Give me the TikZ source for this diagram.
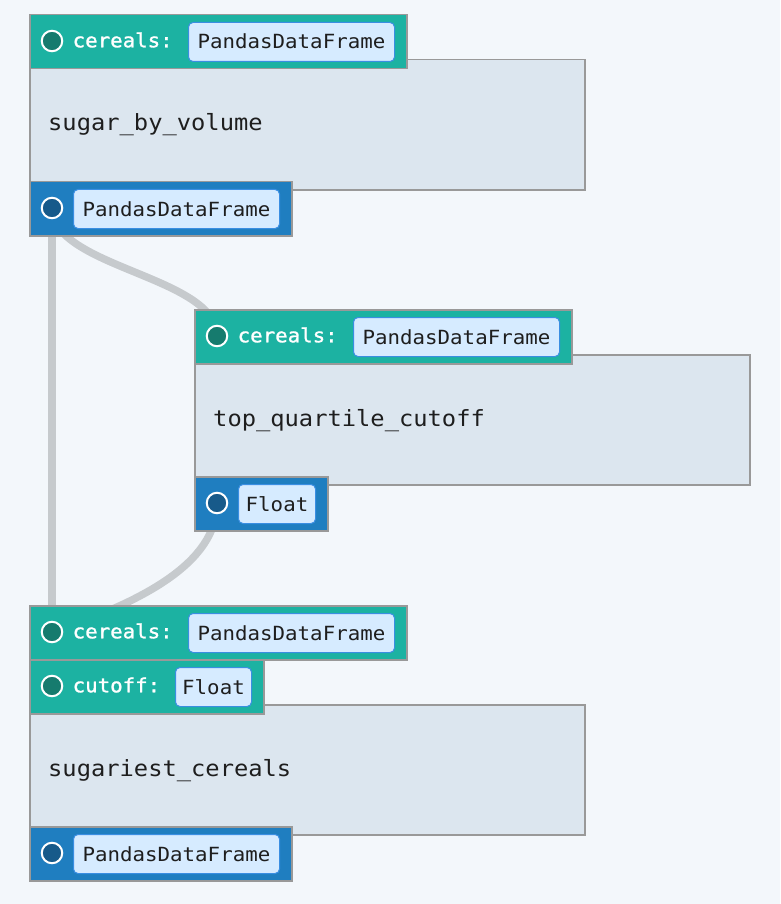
\documentclass[tikz,border=0pt]{standalone}
\usepackage{fontspec}
\newfontfamily\monof[FakeStretch=1.065]{DejaVu Sans Mono}
\newfontfamily\monosb[FakeStretch=1.065,FakeBold=1.3]{DejaVu Sans Mono}
\definecolor{pagebg}{HTML}{F3F7FB}
\definecolor{tealbar}{HTML}{1CB2A2}
\definecolor{bluebar}{HTML}{1F7EC0}
\definecolor{bodyc}{HTML}{DCE6EF}
\definecolor{bordergray}{HTML}{999999}
\definecolor{tboxf}{HTML}{D6EBFF}
\definecolor{tboxb}{HTML}{3A8EE2}
\definecolor{tealdark}{HTML}{167B6E}
\definecolor{bluedark}{HTML}{175A8A}
\definecolor{edgec}{HTML}{C6CACD}
\definecolor{textc}{HTML}{1E1E1E}
\pgfdeclarelayer{back}
\pgfdeclarelayer{edges}
\pgfsetlayers{back,edges,main}
\begin{document}
\begin{tikzpicture}[x=1pt,y=-1pt,
  bar/.style={draw=bordergray, line width=1.5pt, anchor=north west, inner sep=0pt, rectangle},
  hdr/.style={bar, fill=tealbar, minimum height=54pt},
  outb/.style={bar, fill=bluebar, minimum height=54pt},
  bodybox/.style={bar, fill=bodyc, minimum width=555pt, minimum height=130pt},
  tbox/.style={draw=tboxb, fill=tboxf, rounded corners=4.5pt, line width=1pt, anchor=north west,
    minimum height=39pt, inner sep=0pt, text height=14pt, text depth=0pt,
    font=\monof\fontsize{19.5}{20}\selectfont, text=textc},
  port/.style={circle, draw=white, line width=2pt, minimum size=20.5pt, inner sep=0pt},
  hlabel/.style={anchor=base west, inner sep=0pt, text=white, font=\monosb\fontsize{19.5}{20}\selectfont},
  btext/.style={anchor=base west, inner sep=0pt, text=textc, font=\monof\fontsize{22.3}{24}\selectfont},
  edge/.style={draw=edgec, line width=7.5pt}
]
\begin{pgfonlayer}{back}
\fill[pagebg] (0,0) rectangle (780,904);
\end{pgfonlayer}
\useasboundingbox (0,0) rectangle (780,904);

% ---- node 1: sugar_by_volume
\node[bodybox] (b1) at (29,59) {};
\node[btext] (n1) at (48,131) {sugar\_by\_volume};
\node[hdr, minimum width=377pt] (h1) at (29,14) {};
\node[port, fill=tealdark] (p1in) at (52,41) {};
\node[hlabel] (l1) at (72.5,47.3) {cereals:};
\node[tbox, minimum width=206pt] (t1) at (188,22) {PandasDataFrame};
\node[outb, minimum width=262pt] (o1) at (29,181) {};
\node[port, fill=bluedark] (p1out) at (52,208) {};
\node[tbox, minimum width=206pt] (t1o) at (73,189) {PandasDataFrame};

% ---- node 2: top_quartile_cutoff
\node[bodybox] (b2) at (194,354) {};
\node[btext] (n2) at (213,426) {top\_quartile\_cutoff};
\node[hdr, minimum width=377pt] (h2) at (194,309) {};
\node[port, fill=tealdark] (p2in) at (217,336) {};
\node[hlabel] (l2) at (237.5,342.3) {cereals:};
\node[tbox, minimum width=206pt] (t2) at (353,317) {PandasDataFrame};
\node[outb, minimum width=133pt] (o2) at (194,476) {};
\node[port, fill=bluedark] (p2out) at (217,503) {};
\node[tbox, minimum width=77pt] (t2o) at (238,484) {Float};

% ---- node 3: sugariest_cereals
\node[bodybox] (b3) at (29,704) {};
\node[btext] (n3) at (48,776) {sugariest\_cereals};
\node[hdr, minimum width=377pt] (h3a) at (29,605) {};
\node[port, fill=tealdark] (p3in) at (52,632) {};
\node[hlabel] (l3a) at (72.5,638.3) {cereals:};
\node[tbox, minimum width=206pt] (t3a) at (188,613) {PandasDataFrame};
\node[hdr, minimum width=234pt] (h3b) at (29,659) {};
\node[port, fill=tealdark] (p3cut) at (52,686) {};
\node[hlabel] (l3b) at (72.5,692.3) {cutoff:};
\node[tbox, minimum width=76pt] (t3b) at (175,667) {Float};
\node[outb, minimum width=262pt] (o3) at (29,826) {};
\node[port, fill=bluedark] (p3out) at (52,853) {};
\node[tbox, minimum width=206pt] (t3o) at (73,834) {PandasDataFrame};

% ---- connectors
\begin{pgfonlayer}{edges}
\draw[edge] (p1out.center) -- (p3in.center);
\draw[edge] (p1out.center) .. controls +(0,60) and +(0,-60) .. (p2in.center);
\draw[edge] (p2out.center) .. controls +(0,60) and +(90,-30) .. (p3in.center);
\end{pgfonlayer}
\end{tikzpicture}
\end{document}
